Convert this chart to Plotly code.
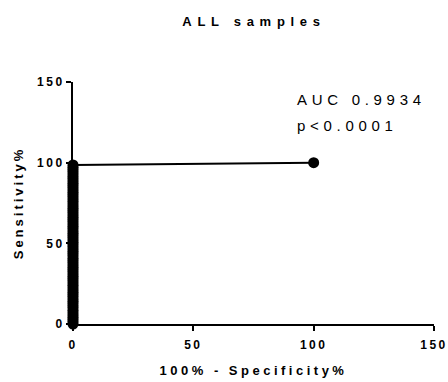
import plotly.graph_objects as go

# ROC points: 100% - Specificity% (x) and Sensitivity% (y)
sens = [0, 1.4, 2.8, 4.2, 5.6, 7.0, 8.5, 10.0, 11.3, 12.7, 14.1, 15.5, 17.0, 18.3,
        19.7, 21.1, 22.5, 24.0, 25.4, 26.8, 28.2, 29.6, 31.0, 32.4, 33.8, 35.2,
        36.6, 38.0, 39.4, 40.8, 42.3, 43.7, 45.1, 46.5, 47.9, 49.3, 50.7, 52.1,
        53.5, 54.9, 56.3, 57.7, 59.2, 60.6, 62.0, 63.4, 64.8, 66.2, 67.6, 69.0,
        70.4, 71.8, 73.2, 74.6, 76.1, 77.5, 78.9, 80.3, 81.7, 83.1, 84.5, 85.9,
        87.3, 88.7, 90.1, 91.5, 93.0, 94.4, 95.8, 97.2, 98.6, 100]
fpr = [0] * (len(sens) - 1) + [100]
xticks = [0, 50, 100, 150]
yticks = [0, 50, 100, 150]
tick_labels = ["0", "50", "100", "150"]
title = "ALL samples"
xtitle = "100% - Specificity%"
ytitle = "Sensitivity%"
auc_lines = ["AUC 0.9934", "p<0.0001"]


def spaced(txt, px, bold=False):
    inner = f"<b>{txt}</b>" if bold else txt
    return f'<span style="letter-spacing:{px}px">{inner}</span>'


W, H = 448, 382
L, R, T, B = 73, 14, 82, 58
FONT = "Liberation Sans, Arial"

fig = go.Figure()
fig.add_trace(go.Scatter(
    x=fpr, y=sens, mode="lines+markers",
    line=dict(color="black", width=2),
    marker=dict(color="black", size=11, symbol="circle"),
    cliponaxis=False, showlegend=False, hoverinfo="skip",
))

tickfont = dict(family=FONT, size=12, color="black", weight="bold")
titlefont = dict(family=FONT, size=13, color="black", weight="bold")
axis_common = dict(
    showline=True, linecolor="black", linewidth=2,
    ticks="outside", ticklen=5, tickwidth=2, tickcolor="black",
    showgrid=False, zeroline=False, range=[0, 150], automargin=False,
    tickfont=tickfont,
)
fig.update_xaxes(**axis_common, tickvals=xticks, ticklabelstandoff=4,
                 ticktext=[spaced(t, 2.5, True) for t in tick_labels],
                 title=dict(text=spaced(xtitle, 3.5), standoff=14, font=titlefont))
fig.update_yaxes(**axis_common, tickvals=yticks, ticklabelstandoff=-1,
                 ticktext=[spaced(t, 2.5, True) for t in tick_labels],
                 title=dict(text=spaced(ytitle, 3), standoff=11, font=titlefont))

for txt, yy in zip(auc_lines, [0.926, 0.822]):
    fig.add_annotation(x=0.615, y=yy, xref="paper", yref="paper",
                       text=spaced(txt, 4.7), showarrow=False,
                       xanchor="left", yanchor="middle", align="left",
                       font=dict(family=FONT, size=15, color="black"))

fig.update_layout(
    width=W, height=H,
    margin=dict(l=L, r=R, t=T, b=B),
    paper_bgcolor="white", plot_bgcolor="white",
    title=dict(text=spaced(title, 5.7), x=0.567, xanchor="center", y=0.943, yanchor="middle",
               font=dict(family=FONT, size=13, color="black", weight="bold")),
)

fig.write_html("out.html", config={"displayModeBar": False},
               post_script="document.body.style.margin='0';document.body.style.overflow='hidden';")
